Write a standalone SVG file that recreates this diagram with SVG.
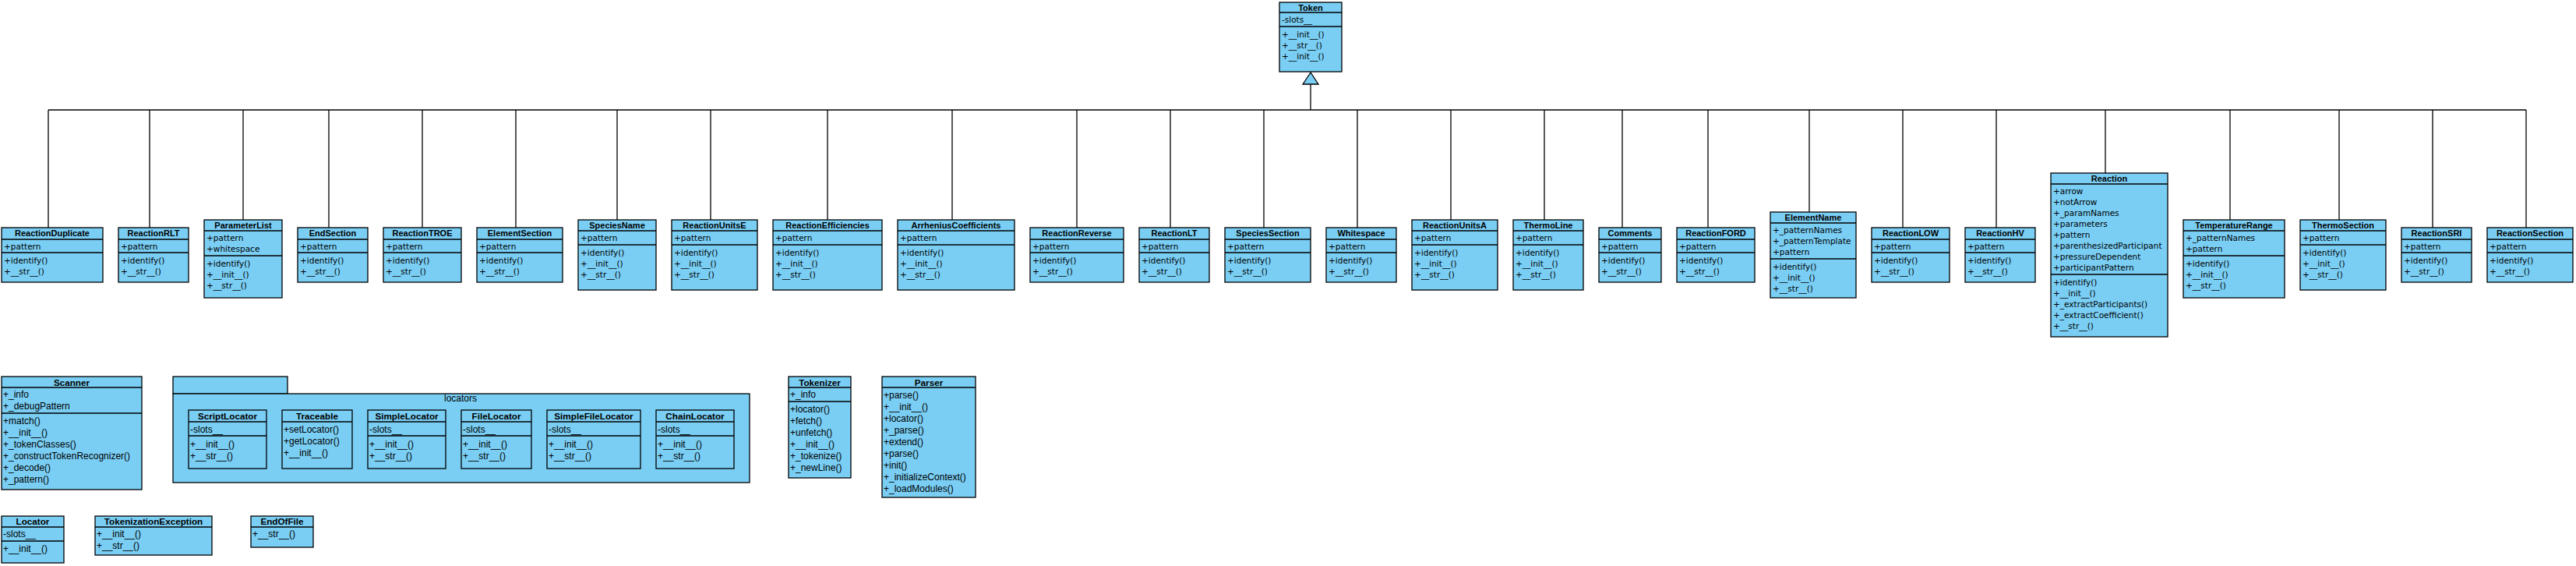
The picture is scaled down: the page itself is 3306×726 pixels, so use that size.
<svg xmlns="http://www.w3.org/2000/svg" width="3306" height="726" viewBox="0 0 3306 726">
<style>
.bx{fill:#7ACEF4;stroke:#000;stroke-width:1.3}
.ln{stroke:#000;stroke-width:1.3}
.t{font-family:"Liberation Sans",Arial,sans-serif;font-weight:bold;font-size:11px;text-anchor:middle;fill:#000}
.t2{font-family:"Liberation Sans",Arial,sans-serif;font-weight:bold;font-size:11.7px;text-anchor:middle;fill:#000}
.a{font-family:"DejaVu Sans",sans-serif;font-size:10.5px;fill:#000}
.b{font-family:"Liberation Sans",Arial,sans-serif;font-size:12px;fill:#000}
.c{stroke:#000;stroke-width:1.3;fill:none}
</style>
<rect width="3306" height="726" fill="#fff"/>
<g id="connectors">
<path class="c" d="M62,141H3242M1682,108V141"/>
<path class="c" d="M62,141V292M192,141V292M312,141V282M422,141V292M542,141V292M662,141V292M792,141V282M912,141V282M1062,141V282M1222,141V282M1382,141V292M1502,141V292M1622,141V292M1742,141V292M1862,141V282M1982,141V282M2082,141V292M2192,141V292M2322,141V272M2442,141V292M2562,141V292M2702,141V222M2862,141V282M3002,141V282M3122,141V292M3242,141V292"/>
<polygon points="1682,93 1672,108 1692,108" fill="#7ACEF4" stroke="#000" stroke-width="1.3"/>
</g>
<g id="Token"><rect class="bx" x="1642" y="3" width="80" height="89"/><path class="ln" d="M1642,16H1722M1642,34H1722"/><text class="t" x="1682" y="14">Token</text><text class="a" x="1645" y="28.5">-slots__</text><text class="a" x="1645" y="47.5">+__init__()</text><text class="a" x="1645" y="61.5">+__str__()</text><text class="a" x="1645" y="75.5">+__init__()</text></g>
<g id="ReactionDuplicate"><rect class="bx" x="2" y="292" width="130" height="70"/><path class="ln" d="M2,307H132M2,324H132"/><text class="t" x="67" y="303">ReactionDuplicate</text><text class="a" x="5" y="319.5">+pattern</text><text class="a" x="5" y="337.5">+identify()</text><text class="a" x="5" y="351.5">+__str__()</text></g>
<g id="ReactionRLT"><rect class="bx" x="152" y="292" width="90" height="70"/><path class="ln" d="M152,307H242M152,324H242"/><text class="t" x="197" y="303">ReactionRLT</text><text class="a" x="155" y="319.5">+pattern</text><text class="a" x="155" y="337.5">+identify()</text><text class="a" x="155" y="351.5">+__str__()</text></g>
<g id="ParameterList"><rect class="bx" x="262" y="282" width="100" height="100"/><path class="ln" d="M262,296H362M262,328H362"/><text class="t" x="312" y="293">ParameterList</text><text class="a" x="265" y="308.5">+pattern</text><text class="a" x="265" y="322.5">+whitespace</text><text class="a" x="265" y="341.5">+identify()</text><text class="a" x="265" y="355.5">+__init__()</text><text class="a" x="265" y="369.5">+__str__()</text></g>
<g id="EndSection"><rect class="bx" x="382" y="292" width="90" height="70"/><path class="ln" d="M382,307H472M382,324H472"/><text class="t" x="427" y="303">EndSection</text><text class="a" x="385" y="319.5">+pattern</text><text class="a" x="385" y="337.5">+identify()</text><text class="a" x="385" y="351.5">+__str__()</text></g>
<g id="ReactionTROE"><rect class="bx" x="492" y="292" width="100" height="70"/><path class="ln" d="M492,307H592M492,324H592"/><text class="t" x="542" y="303">ReactionTROE</text><text class="a" x="495" y="319.5">+pattern</text><text class="a" x="495" y="337.5">+identify()</text><text class="a" x="495" y="351.5">+__str__()</text></g>
<g id="ElementSection"><rect class="bx" x="612" y="292" width="110" height="70"/><path class="ln" d="M612,307H722M612,324H722"/><text class="t" x="667" y="303">ElementSection</text><text class="a" x="615" y="319.5">+pattern</text><text class="a" x="615" y="337.5">+identify()</text><text class="a" x="615" y="351.5">+__str__()</text></g>
<g id="SpeciesName"><rect class="bx" x="742" y="282" width="100" height="90"/><path class="ln" d="M742,296H842M742,314H842"/><text class="t" x="792" y="293">SpeciesName</text><text class="a" x="745" y="308.5">+pattern</text><text class="a" x="745" y="327.5">+identify()</text><text class="a" x="745" y="341.5">+__init__()</text><text class="a" x="745" y="355.5">+__str__()</text></g>
<g id="ReactionUnitsE"><rect class="bx" x="862" y="282" width="110" height="90"/><path class="ln" d="M862,296H972M862,314H972"/><text class="t" x="917" y="293">ReactionUnitsE</text><text class="a" x="865" y="308.5">+pattern</text><text class="a" x="865" y="327.5">+identify()</text><text class="a" x="865" y="341.5">+__init__()</text><text class="a" x="865" y="355.5">+__str__()</text></g>
<g id="ReactionEfficiencies"><rect class="bx" x="992" y="282" width="140" height="90"/><path class="ln" d="M992,296H1132M992,314H1132"/><text class="t" x="1062" y="293">ReactionEfficiencies</text><text class="a" x="995" y="308.5">+pattern</text><text class="a" x="995" y="327.5">+identify()</text><text class="a" x="995" y="341.5">+__init__()</text><text class="a" x="995" y="355.5">+__str__()</text></g>
<g id="ArrheniusCoefficients"><rect class="bx" x="1152" y="282" width="150" height="90"/><path class="ln" d="M1152,296H1302M1152,314H1302"/><text class="t" x="1227" y="293">ArrheniusCoefficients</text><text class="a" x="1155" y="308.5">+pattern</text><text class="a" x="1155" y="327.5">+identify()</text><text class="a" x="1155" y="341.5">+__init__()</text><text class="a" x="1155" y="355.5">+__str__()</text></g>
<g id="ReactionReverse"><rect class="bx" x="1322" y="292" width="120" height="70"/><path class="ln" d="M1322,307H1442M1322,324H1442"/><text class="t" x="1382" y="303">ReactionReverse</text><text class="a" x="1325" y="319.5">+pattern</text><text class="a" x="1325" y="337.5">+identify()</text><text class="a" x="1325" y="351.5">+__str__()</text></g>
<g id="ReactionLT"><rect class="bx" x="1462" y="292" width="90" height="70"/><path class="ln" d="M1462,307H1552M1462,324H1552"/><text class="t" x="1507" y="303">ReactionLT</text><text class="a" x="1465" y="319.5">+pattern</text><text class="a" x="1465" y="337.5">+identify()</text><text class="a" x="1465" y="351.5">+__str__()</text></g>
<g id="SpeciesSection"><rect class="bx" x="1572" y="292" width="110" height="70"/><path class="ln" d="M1572,307H1682M1572,324H1682"/><text class="t" x="1627" y="303">SpeciesSection</text><text class="a" x="1575" y="319.5">+pattern</text><text class="a" x="1575" y="337.5">+identify()</text><text class="a" x="1575" y="351.5">+__str__()</text></g>
<g id="Whitespace"><rect class="bx" x="1702" y="292" width="90" height="70"/><path class="ln" d="M1702,307H1792M1702,324H1792"/><text class="t" x="1747" y="303">Whitespace</text><text class="a" x="1705" y="319.5">+pattern</text><text class="a" x="1705" y="337.5">+identify()</text><text class="a" x="1705" y="351.5">+__str__()</text></g>
<g id="ReactionUnitsA"><rect class="bx" x="1812" y="282" width="110" height="90"/><path class="ln" d="M1812,296H1922M1812,314H1922"/><text class="t" x="1867" y="293">ReactionUnitsA</text><text class="a" x="1815" y="308.5">+pattern</text><text class="a" x="1815" y="327.5">+identify()</text><text class="a" x="1815" y="341.5">+__init__()</text><text class="a" x="1815" y="355.5">+__str__()</text></g>
<g id="ThermoLine"><rect class="bx" x="1942" y="282" width="90" height="90"/><path class="ln" d="M1942,296H2032M1942,314H2032"/><text class="t" x="1987" y="293">ThermoLine</text><text class="a" x="1945" y="308.5">+pattern</text><text class="a" x="1945" y="327.5">+identify()</text><text class="a" x="1945" y="341.5">+__init__()</text><text class="a" x="1945" y="355.5">+__str__()</text></g>
<g id="Comments"><rect class="bx" x="2052" y="292" width="80" height="70"/><path class="ln" d="M2052,307H2132M2052,324H2132"/><text class="t" x="2092" y="303">Comments</text><text class="a" x="2055" y="319.5">+pattern</text><text class="a" x="2055" y="337.5">+identify()</text><text class="a" x="2055" y="351.5">+__str__()</text></g>
<g id="ReactionFORD"><rect class="bx" x="2152" y="292" width="100" height="70"/><path class="ln" d="M2152,307H2252M2152,324H2252"/><text class="t" x="2202" y="303">ReactionFORD</text><text class="a" x="2155" y="319.5">+pattern</text><text class="a" x="2155" y="337.5">+identify()</text><text class="a" x="2155" y="351.5">+__str__()</text></g>
<g id="ElementName"><rect class="bx" x="2272" y="272" width="110" height="110"/><path class="ln" d="M2272,286H2382M2272,332H2382"/><text class="t" x="2327" y="283">ElementName</text><text class="a" x="2275" y="298.5">+_patternNames</text><text class="a" x="2275" y="312.5">+_patternTemplate</text><text class="a" x="2275" y="326.5">+pattern</text><text class="a" x="2275" y="345.5">+identify()</text><text class="a" x="2275" y="359.5">+__init__()</text><text class="a" x="2275" y="373.5">+__str__()</text></g>
<g id="ReactionLOW"><rect class="bx" x="2402" y="292" width="100" height="70"/><path class="ln" d="M2402,307H2502M2402,324H2502"/><text class="t" x="2452" y="303">ReactionLOW</text><text class="a" x="2405" y="319.5">+pattern</text><text class="a" x="2405" y="337.5">+identify()</text><text class="a" x="2405" y="351.5">+__str__()</text></g>
<g id="ReactionHV"><rect class="bx" x="2522" y="292" width="90" height="70"/><path class="ln" d="M2522,307H2612M2522,324H2612"/><text class="t" x="2567" y="303">ReactionHV</text><text class="a" x="2525" y="319.5">+pattern</text><text class="a" x="2525" y="337.5">+identify()</text><text class="a" x="2525" y="351.5">+__str__()</text></g>
<g id="Reaction"><rect class="bx" x="2632" y="222" width="150" height="210"/><path class="ln" d="M2632,236H2782M2632,352H2782"/><text class="t" x="2707" y="233">Reaction</text><text class="a" x="2635" y="248.5">+arrow</text><text class="a" x="2635" y="262.5">+notArrow</text><text class="a" x="2635" y="276.5">+_paramNames</text><text class="a" x="2635" y="290.5">+parameters</text><text class="a" x="2635" y="304.5">+pattern</text><text class="a" x="2635" y="318.5">+parenthesizedParticipant</text><text class="a" x="2635" y="332.5">+pressureDependent</text><text class="a" x="2635" y="346.5">+participantPattern</text><text class="a" x="2635" y="365.5">+identify()</text><text class="a" x="2635" y="379.5">+__init__()</text><text class="a" x="2635" y="393.5">+_extractParticipants()</text><text class="a" x="2635" y="407.5">+_extractCoefficient()</text><text class="a" x="2635" y="421.5">+__str__()</text></g>
<g id="TemperatureRange"><rect class="bx" x="2802" y="282" width="130" height="100"/><path class="ln" d="M2802,296H2932M2802,328H2932"/><text class="t" x="2867" y="293">TemperatureRange</text><text class="a" x="2805" y="308.5">+_patternNames</text><text class="a" x="2805" y="322.5">+pattern</text><text class="a" x="2805" y="341.5">+identify()</text><text class="a" x="2805" y="355.5">+__init__()</text><text class="a" x="2805" y="369.5">+__str__()</text></g>
<g id="ThermoSection"><rect class="bx" x="2952" y="282" width="110" height="90"/><path class="ln" d="M2952,296H3062M2952,314H3062"/><text class="t" x="3007" y="293">ThermoSection</text><text class="a" x="2955" y="308.5">+pattern</text><text class="a" x="2955" y="327.5">+identify()</text><text class="a" x="2955" y="341.5">+__init__()</text><text class="a" x="2955" y="355.5">+__str__()</text></g>
<g id="ReactionSRI"><rect class="bx" x="3082" y="292" width="90" height="70"/><path class="ln" d="M3082,307H3172M3082,324H3172"/><text class="t" x="3127" y="303">ReactionSRI</text><text class="a" x="3085" y="319.5">+pattern</text><text class="a" x="3085" y="337.5">+identify()</text><text class="a" x="3085" y="351.5">+__str__()</text></g>
<g id="ReactionSection"><rect class="bx" x="3192" y="292" width="110" height="70"/><path class="ln" d="M3192,307H3302M3192,324H3302"/><text class="t" x="3247" y="303">ReactionSection</text><text class="a" x="3195" y="319.5">+pattern</text><text class="a" x="3195" y="337.5">+identify()</text><text class="a" x="3195" y="351.5">+__str__()</text></g>
<g id="Scanner"><rect class="bx" x="2" y="483" width="180" height="145"/><path class="ln" d="M2,497H182M2,530H182"/><text class="t2" x="92" y="494.5">Scanner</text><text class="b" x="4" y="510">+_info</text><text class="b" x="4" y="525">+_debugPattern</text><text class="b" x="4" y="544">+match()</text><text class="b" x="4" y="559">+__init__()</text><text class="b" x="4" y="574">+_tokenClasses()</text><text class="b" x="4" y="589">+_constructTokenRecognizer()</text><text class="b" x="4" y="604">+_decode()</text><text class="b" x="4" y="619">+_pattern()</text></g>
<g id="locators"><rect class="bx" x="222" y="483" width="147" height="22"/><rect class="bx" x="222" y="505" width="740" height="114"/><text class="b" x="570" y="515">locators</text>
<g id="ScriptLocator"><rect class="bx" x="242" y="526" width="100" height="75"/><path class="ln" d="M242,541H342M242,559H342"/><text class="t2" x="292" y="537.5">ScriptLocator</text><text class="b" x="244" y="554.5">-slots__</text><text class="b" x="244" y="573.5">+__init__()</text><text class="b" x="244" y="588.5">+__str__()</text></g>
<g id="Traceable"><rect class="bx" x="362" y="526" width="90" height="75"/><path class="ln" d="M362,541H452"/><text class="t2" x="407" y="537.5">Traceable</text><text class="b" x="364" y="554.5">+setLocator()</text><text class="b" x="364" y="569.5">+getLocator()</text><text class="b" x="364" y="584.5">+__init__()</text></g>
<g id="SimpleLocator"><rect class="bx" x="472" y="526" width="100" height="75"/><path class="ln" d="M472,541H572M472,559H572"/><text class="t2" x="522" y="537.5">SimpleLocator</text><text class="b" x="474" y="554.5">-slots__</text><text class="b" x="474" y="573.5">+__init__()</text><text class="b" x="474" y="588.5">+__str__()</text></g>
<g id="FileLocator"><rect class="bx" x="592" y="526" width="90" height="75"/><path class="ln" d="M592,541H682M592,559H682"/><text class="t2" x="637" y="537.5">FileLocator</text><text class="b" x="594" y="554.5">-slots__</text><text class="b" x="594" y="573.5">+__init__()</text><text class="b" x="594" y="588.5">+__str__()</text></g>
<g id="SimpleFileLocator"><rect class="bx" x="702" y="526" width="120" height="75"/><path class="ln" d="M702,541H822M702,559H822"/><text class="t2" x="762" y="537.5">SimpleFileLocator</text><text class="b" x="704" y="554.5">-slots__</text><text class="b" x="704" y="573.5">+__init__()</text><text class="b" x="704" y="588.5">+__str__()</text></g>
<g id="ChainLocator"><rect class="bx" x="842" y="526" width="100" height="75"/><path class="ln" d="M842,541H942M842,559H942"/><text class="t2" x="892" y="537.5">ChainLocator</text><text class="b" x="844" y="554.5">-slots__</text><text class="b" x="844" y="573.5">+__init__()</text><text class="b" x="844" y="588.5">+__str__()</text></g>
</g>
<g id="Tokenizer"><rect class="bx" x="1012" y="483" width="80" height="130"/><path class="ln" d="M1012,497H1092M1012,515H1092"/><text class="t2" x="1052" y="494.5">Tokenizer</text><text class="b" x="1014" y="510">+_info</text><text class="b" x="1014" y="529">+locator()</text><text class="b" x="1014" y="544">+fetch()</text><text class="b" x="1014" y="559">+unfetch()</text><text class="b" x="1014" y="574">+__init__()</text><text class="b" x="1014" y="589">+_tokenize()</text><text class="b" x="1014" y="604">+_newLine()</text></g>
<g id="Parser"><rect class="bx" x="1132" y="483" width="120" height="155"/><path class="ln" d="M1132,497H1252"/><text class="t2" x="1192" y="494.5">Parser</text><text class="b" x="1134" y="511">+parse()</text><text class="b" x="1134" y="526">+__init__()</text><text class="b" x="1134" y="541">+locator()</text><text class="b" x="1134" y="556">+_parse()</text><text class="b" x="1134" y="571">+extend()</text><text class="b" x="1134" y="586">+parse()</text><text class="b" x="1134" y="601">+init()</text><text class="b" x="1134" y="616">+_initializeContext()</text><text class="b" x="1134" y="631">+_loadModules()</text></g>
<g id="Locator"><rect class="bx" x="2" y="662" width="80" height="60"/><path class="ln" d="M2,676H82M2,694H82"/><text class="t2" x="42" y="673">Locator</text><text class="b" x="4" y="689">-slots__</text><text class="b" x="4" y="708">+__init__()</text></g>
<g id="TokenizationException"><rect class="bx" x="122" y="662" width="150" height="50"/><path class="ln" d="M122,676H272"/><text class="t2" x="197" y="673">TokenizationException</text><text class="b" x="124" y="689">+__init__()</text><text class="b" x="124" y="704">+__str__()</text></g>
<g id="EndOfFile"><rect class="bx" x="322" y="662" width="80" height="40"/><path class="ln" d="M322,676H402"/><text class="t2" x="362" y="673">EndOfFile</text><text class="b" x="324" y="689">+__str__()</text></g>
</svg>
